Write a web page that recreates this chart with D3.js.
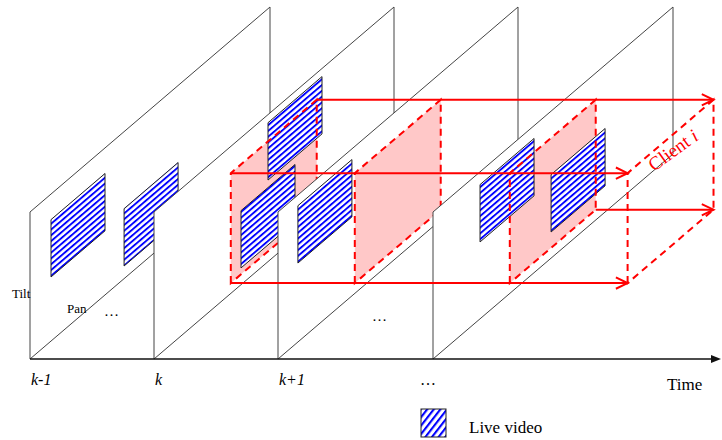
<!DOCTYPE html>
<html>
<head>
<meta charset="utf-8">
<script src="https://cdn.jsdelivr.net/npm/d3@7"></script>
<style>
  body { margin: 0; background: #fff; }
  text { font-family: "Liberation Serif", "Times New Roman", serif; }
</style>
</head>
<body>
<div id="chart"></div>
<script>
// frames along the time axis (t in frame units)
const frameLabels = ['k-1', 'k', 'k+1', '…']
const frameTimes = [0, 1, 2, 3.25]

// live video windows inside each frame: frame index, pan, tilt (0..1 of the frame)
const videoFrame = [0, 0, 1, 1, 2, 3, 3]
const videoPan = [0.0875, 0.392, 0.475, 0.3625, 0.083, 0.196, 0.492]
const videoTilt = [0.436, 0.086, 0.555, 0.114, 0.537, 0.523, 0.178]
const videoSize = {pan: 0.225, tilt: 0.39}

// client i viewport over time (last one is the projected one)
const viewTimes = [1, 2, 3.25, 4.2]
const viewFilled = [true, true, true, false]
const viewPan = 0.32
const viewTilt = 0.07
const viewSize = {pan: 0.358, tilt: 0.748}

const width = 722
const height = 440

const config = {
  baseY: 359,
  panDx: 240,
  panDy: 205,
  tiltH: 147,
  red: '#ff0000',
  pink: '#ffc8c8',
  blue: '#0000ff'
}

const tScale = d3.scaleLinear().domain([0, 1]).range([30, 154])
const panX = d3.scaleLinear().domain([0, 1]).range([0, config.panDx])
const panY = d3.scaleLinear().domain([0, 1]).range([0, config.panDy])
const tiltY = d3.scaleLinear().domain([0, 1]).range([0, config.tiltH])

// point in the (time, pan, tilt) space
function pt(t, p, q) {
  return [tScale(t) + panX(p), config.baseY - panY(p) - tiltY(q)]
}
function quad(t, p, q, w, h) {
  return [pt(t, p, q), pt(t, p, q + h), pt(t, p + w, q + h), pt(t, p + w, q)]
}
const line = d3.line()
const closed = pts => line(pts) + 'Z'

const svg = d3.select('#chart').append('svg')
  .attr('width', width)
  .attr('height', height)

const defs = svg.append('defs')
function hatch(id, size, stripe, angle) {
  const p = defs.append('pattern')
    .attr('id', id)
    .attr('patternUnits', 'userSpaceOnUse')
    .attr('width', size)
    .attr('height', size)
    .attr('patternTransform', 'rotate(' + angle + ')')
  p.append('rect').attr('width', size).attr('height', size).attr('fill', '#fff')
  p.append('rect').attr('width', size).attr('height', stripe).attr('fill', config.blue)
}
hatch('stripes', 4.4, 1.9, -40.5)
hatch('stripes-legend', 5.2, 2.1, -52)

const videos = videoFrame.map((f, i) => ({frame: f, pan: videoPan[i], tilt: videoTilt[i]}))
const views = viewTimes.map((t, i) => ({t: t, filled: viewFilled[i]}))

const viewDash = '7,5'

// draw back to front, each frame hides the one before
frameTimes.forEach(function (t, i) {
  const g = svg.append('g').attr('class', 'frame')

  g.append('path')
    .attr('d', closed(quad(t, 0, 0, 1, 1)))
    .attr('fill', '#fff')
    .attr('stroke', '#444')
    .attr('stroke-width', 1)

  const v = views[i - 1]
  if (v && v.filled) {
    g.append('path')
      .attr('d', closed(quad(v.t, viewPan, viewTilt, viewSize.pan, viewSize.tilt)))
      .attr('fill', config.pink)
  }

  g.selectAll('.video')
    .data(videos.filter(d => d.frame === i))
    .enter()
    .append('path')
    .attr('class', 'video')
    .attr('d', d => closed(quad(t, d.pan, d.tilt, videoSize.pan, videoSize.tilt)))
    .attr('fill', 'url(#stripes)')
    .attr('stroke', '#222')
    .attr('stroke-width', 1)

  if (v && v.filled) {
    g.append('path')
      .attr('d', closed(quad(v.t, viewPan, viewTilt, viewSize.pan, viewSize.tilt)))
      .attr('fill', 'none')
      .attr('stroke', config.red)
      .attr('stroke-width', 2)
      .attr('stroke-dasharray', viewDash)
  }
})

// projected viewport, outline only
const last = views[views.length - 1]
svg.append('path')
  .attr('d', closed(quad(last.t, viewPan, viewTilt, viewSize.pan, viewSize.tilt)))
  .attr('fill', 'none')
  .attr('stroke', config.red)
  .attr('stroke-width', 2)
  .attr('stroke-dasharray', viewDash)

// time axis
const axisEnd = width - 1
svg.append('line')
  .attr('x1', tScale(0)).attr('y1', config.baseY)
  .attr('x2', axisEnd - 6).attr('y2', config.baseY)
  .attr('stroke', '#111')
  .attr('stroke-width', 1.5)
svg.append('path')
  .attr('d', closed([[axisEnd, config.baseY], [axisEnd - 10, config.baseY - 4], [axisEnd - 10, config.baseY + 4]]))
  .attr('fill', '#111')

// red arrows between corresponding corners of the viewports
const first = views[0]
const corners = [
  {from: [first.t, 0, 1], to: [last.t, 0, 1]},
  {from: [first.t, 1, 1], to: [last.t, 1, 1]},
  {from: [first.t, 0, 0], to: [last.t, 0, 0]},
  {from: [views[2].t, 1, 0], to: [last.t, 1, 0]}
]
corners.forEach(function (c) {
  const a = pt(c.from[0], viewPan + c.from[1] * viewSize.pan, viewTilt + c.from[2] * viewSize.tilt)
  const b = pt(c.to[0], viewPan + c.to[1] * viewSize.pan, viewTilt + c.to[2] * viewSize.tilt)
  svg.append('path')
    .attr('d', line([a, b]))
    .attr('stroke', config.red)
    .attr('stroke-width', 2)
    .attr('fill', 'none')
  const ang = Math.atan2(b[1] - a[1], b[0] - a[0])
  const head = [-0.45, 0.45].map(o => [b[0] - 13 * Math.cos(ang + o), b[1] - 13 * Math.sin(ang + o)])
  svg.append('path')
    .attr('d', line([head[0], b, head[1]]))
    .attr('stroke', config.red)
    .attr('stroke-width', 2)
    .attr('fill', 'none')
})

// frame labels under the axis
svg.selectAll('.frame-label')
  .data(frameLabels)
  .enter()
  .append('text')
  .attr('class', 'frame-label')
  .attr('x', (d, i) => d === '…' ? tScale(frameTimes[i]) - 5 : tScale(frameTimes[i]) + 1)
  .attr('y', 385)
  .attr('text-anchor', d => d === '…' ? 'middle' : 'start')
  .attr('font-style', d => d === '…' ? 'normal' : 'italic')
  .attr('font-size', 16)
  .text(d => d)

svg.append('text').attr('x', 667).attr('y', 390).attr('font-size', 17).text('Time')
svg.append('text').attr('x', 12).attr('y', 298).attr('font-size', 13).text('Tilt')
svg.append('text').attr('x', 67).attr('y', 313).attr('font-size', 13).text('Pan')
svg.append('text').attr('x', 104).attr('y', 316).attr('font-size', 15).text('…')
svg.append('text').attr('x', 372).attr('y', 321).attr('font-size', 15).text('…')

// client label along the projected viewport
svg.append('text')
  .attr('transform', 'translate(654,172) rotate(-36)')
  .attr('font-size', 19)
  .attr('fill', config.red)
  .call(t => {
    t.append('tspan').text('Client ')
    t.append('tspan').attr('font-style', 'italic').text('i')
  })

// legend
svg.append('rect')
  .attr('x', 421).attr('y', 409)
  .attr('width', 25).attr('height', 28)
  .attr('fill', 'url(#stripes-legend)')
  .attr('stroke', '#222')
svg.append('text').attr('x', 469).attr('y', 433).attr('font-size', 17).text('Live video')
</script>
</body>
</html>
